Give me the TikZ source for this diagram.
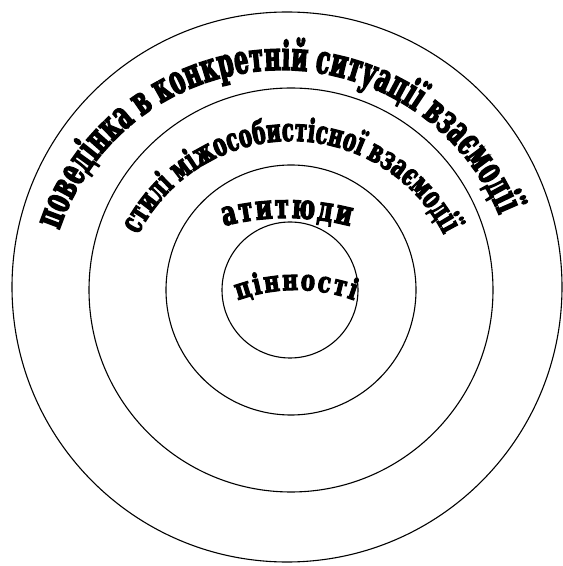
\documentclass[tikz,border=0pt]{standalone}
\usepackage{fontspec}
\newfontfamily\ringfontA{DejaVu Serif}[FakeStretch=0.555, FakeBold=3.5, WordSpace=0.85]
\newfontfamily\ringfontB{DejaVu Serif}[FakeStretch=0.61, FakeBold=3.5, WordSpace=0.85]
\newfontfamily\ringfontC{DejaVu Serif}[FakeStretch=0.67, FakeBold=3.5]
\newfontfamily\ringfontD{DejaVu Serif}[FakeStretch=0.74, FakeBold=3.5]
\usetikzlibrary{decorations.text}

\tikzset{
  ring/.style={draw=black, line width=1.1pt},
  ringlabel/.style={decorate, decoration={text along path, text align={fit to path}, text={#1}}}
}

\begin{document}
\begin{tikzpicture}[x=1pt, y=1pt]
  \useasboundingbox (0,0) rectangle (563,566);

  % centres of the rings
  \coordinate (co) at (287,279);
  \coordinate (ci) at (291,276);

  % the four rings
  \draw[ring] (co) circle[radius=275];
  \draw[ring] (ci) circle[radius=202];
  \draw[ring] (ci) circle[radius=125];
  \draw[ring] (290,276) circle[radius=68];

  % labels along arcs
  \path[ringlabel={|\ringfontA\bfseries\fontsize{40}{40}\selectfont|поведінка в конкретній ситуації взаємодії}]
    (282,261) ++(161.4:235) arc[start angle=161.4, end angle=22.5, radius=235];
  \path[ringlabel={|\ringfontB\bfseries\fontsize{32}{32}\selectfont|стилі міжособистісної взаємодії}]
    (291,253.5) ++(153:171.5) arc[start angle=153, end angle=27, radius=171.5];
  \path[ringlabel={|\ringfontC\bfseries\fontsize{34}{34}\selectfont|атитюди}]
    (287,96) ++(104.5:252) arc[start angle=104.5, end angle=75.5, radius=252];
  \path[ringlabel={|\ringfontD\bfseries\fontsize{29}{29}\selectfont|цінності}]
    (296,106) ++(110:170) arc[start angle=110, end angle=70, radius=170];
\end{tikzpicture}
\end{document}
